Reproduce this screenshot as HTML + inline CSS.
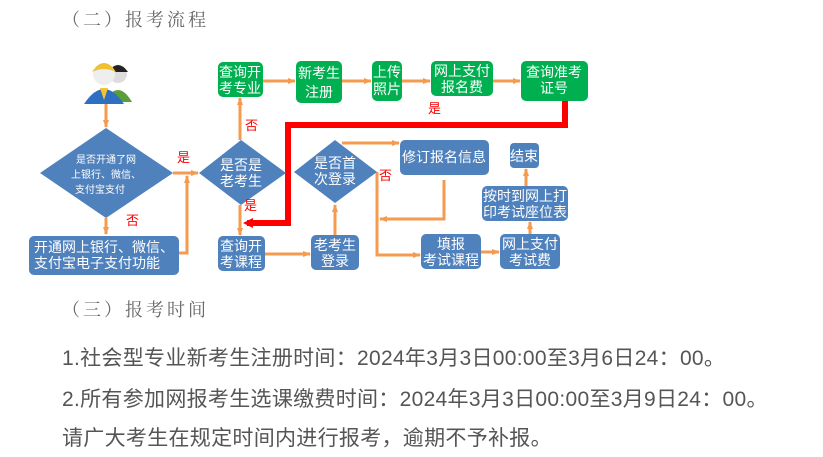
<!DOCTYPE html>
<html><head><meta charset="utf-8"><style>
body{margin:0;width:823px;height:457px;background:#fff;overflow:hidden;position:relative;font-family:"Liberation Sans","Noto Sans CJK SC",sans-serif}
.h{position:absolute;left:62px;font-family:"Noto Serif CJK SC",serif;font-size:18px;color:#666;letter-spacing:3px}
.t{position:absolute;left:62px;font-size:21px;color:#555;white-space:nowrap;letter-spacing:0.3px}
svg{position:absolute;left:0;top:0}
</style></head><body>
<div class="h" style="top:6px">（二）报考流程</div>
<svg width="823" height="300" font-family="Liberation Sans, Noto Sans CJK SC, sans-serif">
<defs><marker id="a" markerWidth="8" markerHeight="8" refX="7" refY="4" orient="auto" markerUnits="userSpaceOnUse"><path d="M0,1 L8,4 L0,7z" fill="#f59b4f"/></marker></defs>
<g stroke="#f59b4f" stroke-width="3" fill="none" marker-end="url(#a)">
<line x1="106" y1="104" x2="106" y2="127"/>
<line x1="173" y1="173" x2="198" y2="173"/>
<polyline points="179,253 187,253 187,176"/>
<line x1="106" y1="218" x2="106" y2="234"/>
<line x1="240" y1="140" x2="240" y2="98"/>
<line x1="263" y1="81" x2="295" y2="81"/>
<line x1="342" y1="81" x2="371" y2="81"/>
<line x1="402" y1="81" x2="430" y2="81"/>
<line x1="493" y1="81" x2="520" y2="81"/>
<line x1="240" y1="205" x2="240" y2="235"/>
<line x1="265" y1="254" x2="310" y2="254"/>
<line x1="335" y1="235" x2="335" y2="205"/>
<line x1="342" y1="143" x2="399" y2="143"/>
<polyline points="444,180 444,219 380,219"/>
<polyline points="377,172 377,255 420,255"/>
<line x1="481" y1="252" x2="499" y2="252"/>
<line x1="530" y1="234" x2="530" y2="222"/>
<line x1="526" y1="186" x2="526" y2="169"/>
</g>
<polyline points="565,101 565,125 288,125 288,223 247,223" stroke="#f00" stroke-width="6" fill="none"/>
<path d="M243,223 L253,218 L253,228z" fill="#f00"/>
<g fill="#4f81bd">
<polygon points="40,173 106,128 173,173 106,218"/>
<polygon points="199,173 241,140 286,173 241,205"/>
<polygon points="294,172 335,140 377,172 335,203"/>
<rect x="29" y="236" width="150" height="39" rx="5"/>
<rect x="218" y="236" width="47" height="35" rx="5"/>
<rect x="311" y="235" width="48" height="35" rx="5"/>
<rect x="400" y="140" width="89" height="35" rx="5"/>
<rect x="421" y="234" width="60" height="35" rx="5"/>
<rect x="500" y="234" width="60" height="35" rx="5"/>
<rect x="482" y="186" width="86" height="35" rx="5"/>
<rect x="510" y="143" width="29" height="25" rx="4"/>
</g>
<g fill="#00b050">
<rect x="218" y="62" width="45" height="35" rx="5"/>
<rect x="296" y="61" width="46" height="42" rx="5"/>
<rect x="372" y="61" width="30" height="40" rx="5"/>
<rect x="431" y="61" width="62" height="35" rx="5"/>
<rect x="521" y="61" width="67" height="40" rx="5"/>
</g>
<g fill="#fff" font-size="14" text-anchor="middle">
<text x="106" y="163" font-size="10">是否开通了网</text>
<text x="106" y="178" font-size="10">上银行、微信、</text>
<text x="100" y="193" font-size="10">支付宝支付</text>
<text x="241" y="170">是否是</text><text x="241" y="186">老考生</text>
<text x="335" y="168">是否首</text><text x="335" y="184">次登录</text>
<text x="104" y="252">开通网上银行、微信、</text><text x="97" y="268">支付宝电子支付功能</text>
<text x="241" y="251">查询开</text><text x="241" y="267">考课程</text>
<text x="335" y="250">老考生</text><text x="335" y="266">登录</text>
<text x="444" y="162">修订报名信息</text>
<text x="451" y="249">填报</text><text x="451" y="265">考试课程</text>
<text x="530" y="249">网上支付</text><text x="530" y="265">考试费</text>
<text x="525" y="201">按时到网上打</text><text x="525" y="217">印考试座位表</text>
<text x="524" y="161">结束</text>
<text x="240" y="77">查询开</text><text x="240" y="93">考专业</text>
<text x="319" y="78">新考生</text><text x="319" y="97">注册</text>
<text x="387" y="77">上传</text><text x="387" y="94">照片</text>
<text x="462" y="76">网上支付</text><text x="462" y="92">报名费</text>
<text x="554" y="77">查询准考</text><text x="554" y="93">证号</text>
</g>
<g fill="#f00" font-size="13">
<text x="177" y="162">是</text><text x="126" y="225">否</text><text x="245" y="130">否</text>
<text x="244" y="210">是</text><text x="428" y="113">是</text><text x="379" y="180">否</text>
</g>
<g>
<circle cx="118" cy="74" r="9" fill="#ddd"/><path d="M108,72 q10,-14 20,0z" fill="#222"/>
<path d="M104,102 q14,-24 28,0z" fill="#5a9e3a"/>
<circle cx="104" cy="74" r="11" fill="#eee"/><path d="M92,72 q12,-18 24,0 q-12,-6 -24,0z" fill="#f0c030"/>
<path d="M84,104 q20,-30 40,0z" fill="#2f6fc2"/><path d="M100,88 l4,12 4,-12z" fill="#f5c330"/>
</g>
</svg>
<div class="h" style="top:296px">（三）报考时间</div>
<div class="t" style="top:342px">1.社会型专业新考生注册时间：2024年3月3日00:00至3月6日24：00。</div>
<div class="t" style="top:383px">2.所有参加网报考生选课缴费时间：2024年3月3日00:00至3月9日24：00。</div>
<div class="t" style="top:422px">请广大考生在规定时间内进行报考，逾期不予补报。</div>
</body></html>
